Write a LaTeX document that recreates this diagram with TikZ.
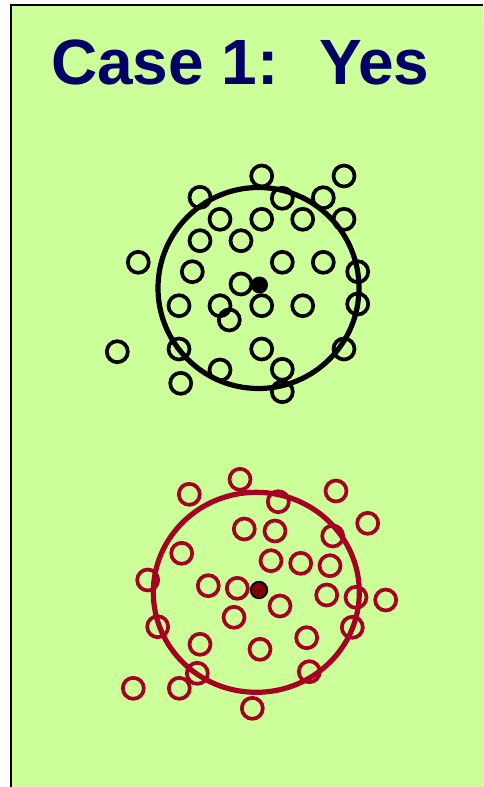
\documentclass[tikz,border=0pt]{standalone}
\usepackage{fontspec}
\setmainfont{Liberation Sans}
\usetikzlibrary{shapes.geometric}
\definecolor{bggreen}{HTML}{CCFF99}
\definecolor{titleblue}{HTML}{000066}
\definecolor{dotred}{HTML}{A50021}
\definecolor{darkred}{HTML}{800000}
\tikzset{
  smallb/.style={draw=black, circle, minimum size=21pt, inner sep=0pt, line width=3.7pt},
  smallr/.style={draw=dotred, circle, minimum size=21pt, inner sep=0pt, line width=3.7pt},
  bigb/.style={draw=black, circle, minimum size=201pt, inner sep=0pt, line width=5.2pt},
  bigr/.style={draw=dotred, ellipse, minimum width=206pt, minimum height=200pt, inner sep=0pt, line width=5.2pt},
  centb/.style={fill=black, circle, minimum size=17pt, inner sep=0pt},
  centr/.style={fill=darkred, draw=black, circle, minimum size=16.5pt, inner sep=0pt, line width=1.8pt},
}
\begin{document}
\begin{tikzpicture}[x=1pt,y=-1pt]
\useasboundingbox (0,0) rectangle (483,787);
\fill[white] (0,0) rectangle (483,787);
\fill[bggreen] (11,5) rectangle (483,787);
\draw[line width=2pt] (11,787) -- (11,5) -- (483,5);
\node[anchor=base west, inner sep=0pt, text=titleblue, font=\fontsize{64}{70}\selectfont\bfseries] (title) at (51,84) {Case 1:\hspace{0.63em}Yes};
% black group
\node[bigb] (bigblack) at (258.5,288) {};
\foreach \x/\y [count=\i] in {261.7/176, 344/176, 200/197.3, 282.3/198.3, 323.3/197.7, 220/219.3, 261.7/219.3, 302.7/219.3, 344/219.3, 200/240.7, 241/240.7, 138.3/262.3, 192.3/271.7, 282.3/262.3, 323.3/262.3, 357.7/271.7, 241/284, 179/305.7, 220/305.7, 261.7/305.7, 302.7/305.7, 357.7/304, 229.3/320, 117.3/351.7, 179/349, 261.7/349, 344/349, 220/370, 282.3/369.3, 180.7/383.3, 282.3/391.7}
  \node[smallb] (b\i) at (\x,\y) {};
\node[centb] (cb) at (259.5,285) {};
% red group
\node[bigr] (bigred) at (256.3,592.3) {};
\foreach \x/\y [count=\i] in {240/479.3, 189.3/494.3, 336/491, 278.3/501.7, 367.7/523.3, 244.3/529, 275/531, 332.7/536, 181.7/553.3, 271/560.7, 300.7/563.3, 330/565.7, 147.7/580, 208.3/585.7, 237.3/588.3, 326.7/595, 356/597.3, 385.7/600, 280/606, 234/617.3, 157.7/626.7, 352.3/627.3, 200/644.3, 306.7/637.7, 260/649.3, 197.3/673.3, 309.3/671.7, 133.3/688.3, 179.3/688.3, 252.3/708.3}
  \node[smallr] (r\i) at (\x,\y) {};
\node[centr] (cr) at (259,590) {};
\end{tikzpicture}
\end{document}
